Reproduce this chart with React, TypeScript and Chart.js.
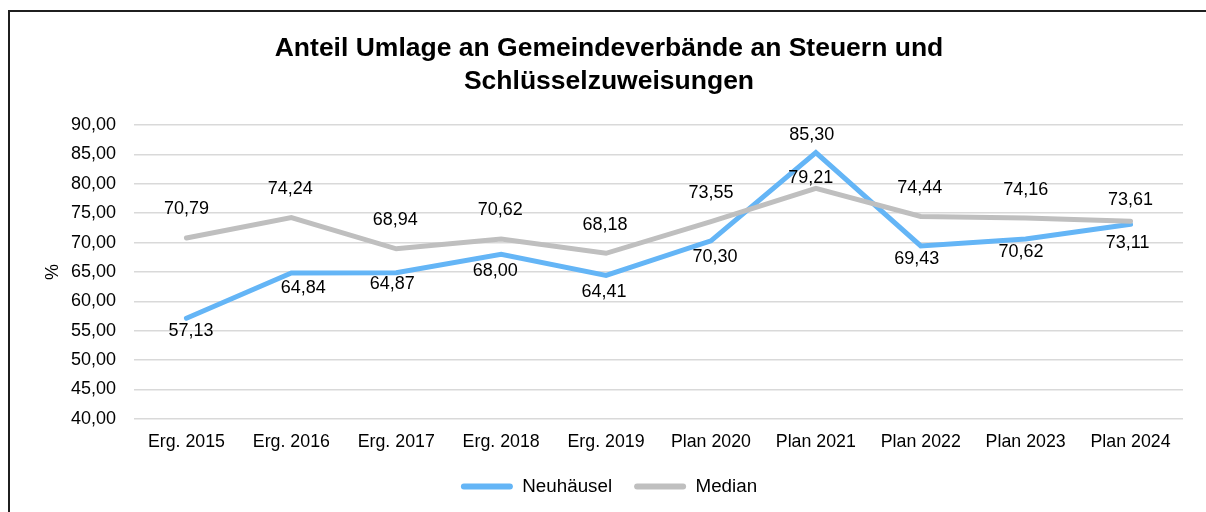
import React, { useEffect, useRef } from "react";
import { Chart, registerables } from "chart.js";

Chart.register(...registerables);

// ---- data ----
const categories = [
  "Erg. 2015",
  "Erg. 2016",
  "Erg. 2017",
  "Erg. 2018",
  "Erg. 2019",
  "Plan 2020",
  "Plan 2021",
  "Plan 2022",
  "Plan 2023",
  "Plan 2024",
];
const neuhaeuselValues = [57.13, 64.84, 64.87, 68.0, 64.41, 70.3, 85.3, 69.43, 70.62, 73.11];
const medianValues = [70.79, 74.24, 68.94, 70.62, 68.18, 73.55, 79.21, 74.44, 74.16, 73.61];
const seriesNames = ["Neuhäusel", "Median"];
const titleLines = ["Anteil Umlage an Gemeindeverbände an Steuern und", "Schlüsselzuweisungen"];
const yAxisTitle = "%";
const yMin = 40;
const yMax = 90;
const yStep = 5;

// ---- styles ----
const FONT = "'Liberation Sans', Arial, Helvetica, sans-serif";
const BLUE = "#64B5F6";
const GRAY = "#BFBFBF";
const TEXT = "#000000";

// pixel nudges for the data labels (style, not data)
const labelNudges = [
  {
    dx: [4.6, 12, -4, -6, -2, 4, -4, -4, -4.6, -3],
    dy: [12.6, 15.5, 11.7, 16.5, 16.4, 16, -17.6, 13.5, 12.9, 19],
  },
  {
    dx: [0, -1, -1, -1, -1, 0, -5, -1, 0, 0],
    dy: [-28.5, -28.3, -28.7, -28.8, -28.2, -29, -10.7, -28, -28, -21.3],
  },
];

const fmt = (v: number) => v.toFixed(2).replace(".", ",");

const dataLabelPlugin = {
  id: "valueLabels",
  afterDatasetsDraw(chart: any) {
    const ctx = chart.ctx;
    ctx.save();
    ctx.font = `18px ${FONT}`;
    ctx.fillStyle = TEXT;
    ctx.textAlign = "center";
    ctx.textBaseline = "middle";
    chart.data.datasets.forEach((ds: any, di: number) => {
      const meta = chart.getDatasetMeta(di);
      const nudge = labelNudges[di];
      meta.data.forEach((pt: any, i: number) => {
        ctx.fillText(fmt(ds.data[i]), pt.x + nudge.dx[i], pt.y + nudge.dy[i]);
      });
    });
    ctx.restore();
  },
};

export default function App() {
  const canvasRef = useRef<HTMLCanvasElement | null>(null);

  useEffect(() => {
    document.body.style.overflow = "hidden";
    const canvas = canvasRef.current;
    if (!canvas) return;
    const chart = new Chart(canvas, {
      type: "line",
      data: {
        labels: categories,
        datasets: [
          {
            label: seriesNames[0],
            data: neuhaeuselValues,
            borderColor: BLUE,
            backgroundColor: BLUE,
            borderWidth: 5,
            pointRadius: 0,
            pointHoverRadius: 0,
            tension: 0,
            borderCapStyle: "round",
            order: 1,
            yAxisID: "y",
          },
          {
            label: seriesNames[1],
            data: medianValues,
            borderColor: GRAY,
            backgroundColor: GRAY,
            borderWidth: 5,
            pointRadius: 0,
            pointHoverRadius: 0,
            tension: 0,
            borderCapStyle: "round",
            order: 0,
            yAxisID: "y",
          },
        ],
      },
      options: {
        animation: false,
        responsive: false,
        events: [],
        layout: { padding: { left: 0, right: 2, top: 0, bottom: 6 } },
        scales: {
          x: {
            offset: true,
            grid: { display: false, drawTicks: false },
            border: { display: false },
            ticks: {
              color: TEXT,
              font: { family: FONT, size: 17.8 },
              padding: 12.5,
              maxRotation: 0,
              autoSkip: false,
            },
            afterFit: (scale: any) => {
              scale.height = 36.3;
            },
          },
          y: {
            position: "left",
            min: yMin,
            max: yMax,
            grid: { color: "#D9D9D9", lineWidth: 1.5, drawTicks: false },
            border: { display: false },
            ticks: {
              stepSize: yStep,
              color: TEXT,
              font: { family: FONT, size: 18 },
              padding: 18,
              callback: (v: any) => fmt(Number(v)),
            },
            title: {
              display: true,
              text: yAxisTitle,
              color: TEXT,
              font: { family: FONT, size: 18 },
              padding: { top: 32.5, bottom: 0 },
            },
            afterFit: (scale: any) => {
              scale.width = 124;
            },
          },
          yRight: {
            position: "right",
            min: yMin,
            max: yMax,
            grid: { display: false, drawTicks: false },
            border: { display: false },
            ticks: { display: false },
            afterFit: (scale: any) => {
              scale.width = 25;
            },
          },
        },
        plugins: {
          tooltip: { enabled: false },
          title: {
            display: true,
            text: titleLines,
            color: TEXT,
            font: { family: FONT, size: 26.5, weight: "bold", lineHeight: 1.24 },
            padding: { top: 20.5, bottom: 26.8 },
          },
          legend: {
            position: "bottom",
            labels: {
              color: TEXT,
              font: { family: FONT, size: 18.8 },
              boxWidth: 52,
              boxHeight: 6,
              padding: 22,
              useBorderRadius: true,
              borderRadius: 3,
              generateLabels: (c: any) =>
                c.data.datasets.map((ds: any, i: number) => ({
                  text: ds.label,
                  fillStyle: ds.borderColor,
                  strokeStyle: ds.borderColor,
                  lineWidth: 0,
                  hidden: false,
                  datasetIndex: i,
                  fontColor: TEXT,
                  borderRadius: 3,
                })),
            },
          },
        },
      },
      plugins: [dataLabelPlugin],
    } as any);
    return () => chart.destroy();
  }, []);

  return (
    <div
      style={{
        position: "absolute",
        left: 8,
        top: 10,
        width: 1230,
        height: 540,
        borderTop: "2px solid #1f1f1f",
        borderLeft: "2px solid #1f1f1f",
        boxSizing: "border-box",
        background: "#ffffff",
      }}
    >
      <canvas
        ref={canvasRef}
        width={1200}
        height={500}
        style={{ position: "absolute", left: 0, top: 0, width: 1200, height: 500, display: "block" }}
      />
    </div>
  );
}
